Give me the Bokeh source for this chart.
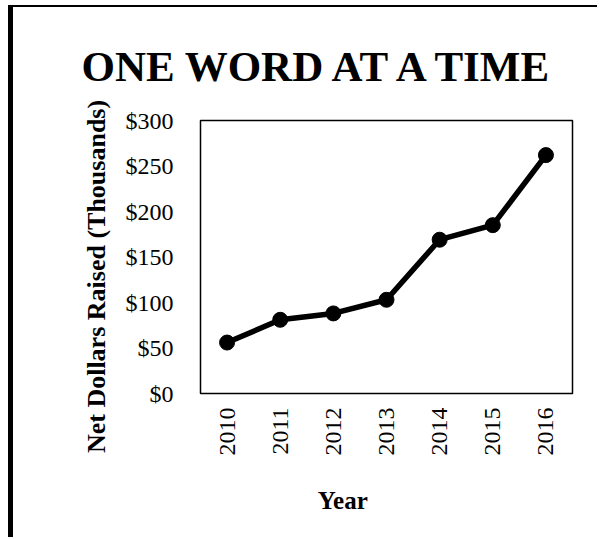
import math
from bokeh.plotting import figure
from bokeh.models import Range1d, FactorRange, FixedTicker
from bokeh.embed import file_html
from bokeh.resources import INLINE

years = ["2010", "2011", "2012", "2013", "2014", "2015", "2016"]
net_raised = [56, 81, 88, 103, 169, 185, 262]
y_ticks = [0, 50, 100, 150, 200, 250, 300]
y_tick_labels = ["$0", "$50", "$100", "$150", "$200", "$250", "$300"]
title_text = "ONE WORD AT A TIME"
x_label = "Year"
y_label = "Net Dollars Raised (Thousands)"

SERIF = "Liberation Serif"
NBSP = "\u00a0"
W, H = 589, 532

p = figure(width=W, height=H, x_range=FactorRange(*years), y_range=Range1d(0, 300),
           output_backend="svg", toolbar_location=None,
           min_border_left=187, min_border_right=30, min_border_top=113, min_border_bottom=146)
p.styles = {"border-left": "5px solid black", "border-top": "2px solid black",
            "margin-left": "8px", "margin-top": "5px"}

p.title.text = title_text
p.title.text_font = SERIF
p.title.text_font_style = "bold"
p.title.text_font_size = "43px"
p.title.text_color = "black"
p.title.align = "left"
p.title.offset = -119
p.title.vertical_align = "top"
p.title.standoff = 58

p.xgrid.visible = False
p.ygrid.visible = False
p.outline_line_color = "black"
p.outline_line_width = 1.5
p.background_fill_color = "white"
p.border_fill_color = "white"

for ax in (p.xaxis, p.yaxis):
    ax.axis_line_color = None
    ax.major_tick_line_color = None
    ax.minor_tick_line_color = None
    ax.major_tick_out = 0
    ax.major_tick_in = 0
    ax.minor_tick_out = 0
    ax.minor_tick_in = 0
    ax.major_label_text_font = SERIF
    ax.major_label_text_font_size = "24px"
    ax.major_label_text_color = "black"
    ax.axis_label_text_font = SERIF
    ax.axis_label_text_font_style = "bold"
    ax.axis_label_text_color = "black"

p.yaxis.ticker = FixedTicker(ticks=y_ticks)
p.yaxis.major_label_overrides = {t: l for t, l in zip(y_ticks, y_tick_labels)}
p.yaxis.major_label_standoff = 27
p.yaxis.axis_label = y_label + NBSP * 6
p.yaxis.axis_label_text_font_size = "26px"
p.yaxis.axis_label_standoff = 12

p.xaxis.major_label_orientation = math.pi / 2
p.xaxis.major_label_standoff = 14
p.xaxis.axis_label = x_label + NBSP * 14
p.xaxis.axis_label_text_font_size = "25px"
p.xaxis.axis_label_standoff = 28

p.line(years, net_raised, line_color="black", line_width=5.5)
p.scatter(years, net_raised, size=15, fill_color="black", line_color="black")

open("out.html", "w").write(file_html(p, INLINE))
